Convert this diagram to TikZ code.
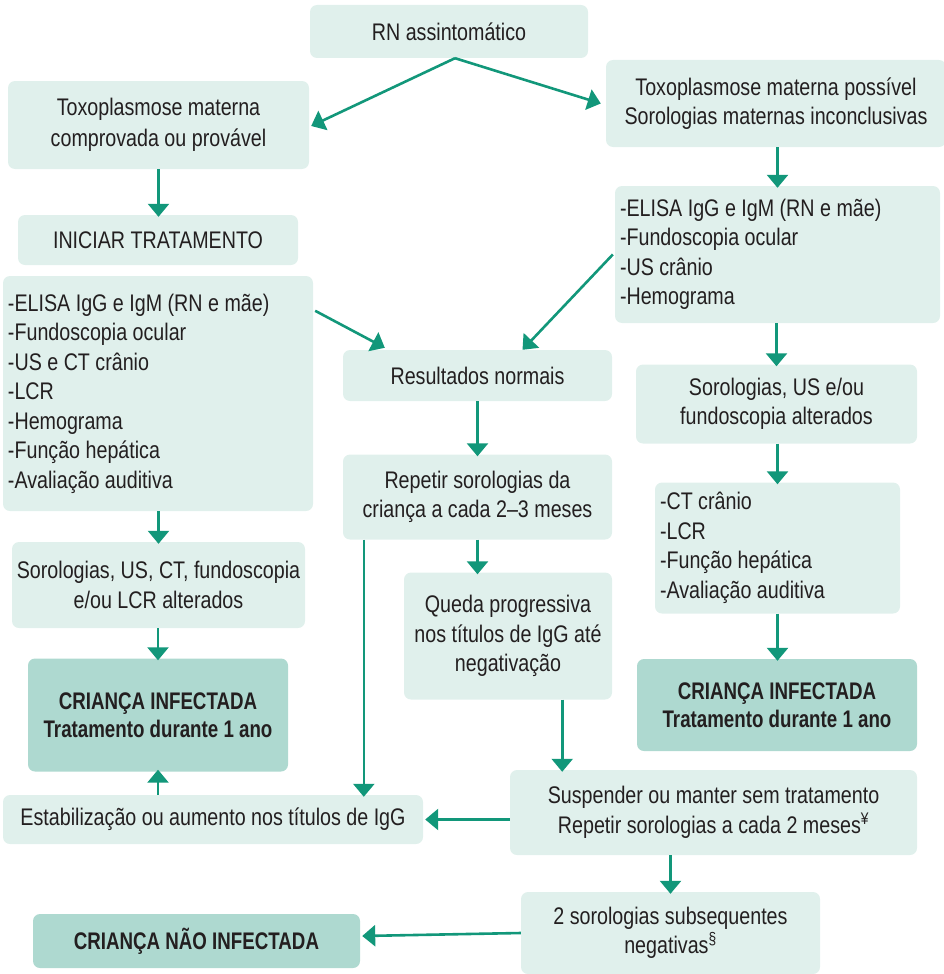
\documentclass[tikz,border=0pt]{standalone}
\usepackage{fontspec}
\setmainfont{Liberation Sans}[FakeStretch=0.82, BoldFeatures={FakeStretch=0.78}]
\usetikzlibrary{arrows.meta,calc}
\definecolor{lightbox}{HTML}{E0F0EC}
\definecolor{darkbox}{HTML}{AED9D0}
\definecolor{arrowgreen}{HTML}{12977A}
\definecolor{txt}{HTML}{231F20}
\begin{document}
\begin{tikzpicture}[x=1pt,y=-1pt,
  every node/.style={font=\fontsize{24pt}{29.5pt}\selectfont, text=txt},
  box/.style={fill=lightbox, rounded corners=7pt, inner sep=0pt, align=center},
  dbox/.style={fill=darkbox, rounded corners=7pt, inner sep=0pt, align=center, font=\fontsize{24pt}{28pt}\selectfont\bfseries},
  listbox/.style={fill=lightbox, rounded corners=7pt, inner ysep=0pt, inner xsep=5pt, align=flush left},
  arr/.style={draw=arrowgreen, line width=2.6pt, -{Triangle[width=21pt,length=13pt]}}
]
\useasboundingbox (0,0) rectangle (943,974);

\node[box, minimum width=278, minimum height=53] (rn) at (449,31.5) {RN assintomático};
\node[box, minimum width=301, minimum height=88, font=\fontsize{24pt}{31.5pt}\selectfont] (tc) at (158.5,125) {Toxoplasmose materna\\comprovada ou provável};
\node[box, minimum width=340, minimum height=87] (tp) at (776,103.5) {Toxoplasmose materna possível\\Sorologias maternas inconclusivas};
\node[box, minimum width=280, minimum height=50] (ini) at (158,240) {INICIAR TRATAMENTO};
\node[listbox, text width=300, minimum height=235] (ll) at (158,393.5) {-ELISA IgG e IgM (RN e mãe)\\-Fundoscopia ocular\\-US e CT crânio\\-LCR\\-Hemograma\\-Função hepática\\-Avaliação auditiva};
\node[listbox, text width=315, minimum height=137] (rl) at (777.5,254.5) {-ELISA IgG e IgM (RN e mãe)\\-Fundoscopia ocular\\-US crânio\\-Hemograma};
\node[box, minimum width=269, minimum height=51] (res) at (477.5,375.5) {Resultados normais};
\node[box, minimum width=281, minimum height=79] (rs) at (776.5,404) {Sorologias, US e/ou\\fundoscopia alterados};
\node[box, minimum width=269, minimum height=85] (rep) at (477.5,497) {Repetir sorologias da\\criança a cada 2–3 meses};
\node[box, minimum width=293, minimum height=86] (ls) at (158.5,585) {Sorologias, US, CT, fundoscopia\\e/ou LCR alterados};
\node[listbox, text width=235, minimum height=131] (ct) at (777.5,548) {-CT crânio\\-LCR\\-Função hepática\\-Avaliação auditiva};
\node[box, minimum width=208, minimum height=127] (qd) at (508,636) {Queda progressiva\\nos títulos de IgG até\\negativação};
\node[dbox, minimum width=260, minimum height=113] (ci1) at (158,715) {CRIANÇA INFECTADA\\Tratamento durante 1 ano};
\node[dbox, minimum width=280, minimum height=92] (ci2) at (777,705) {CRIANÇA INFECTADA\\Tratamento durante 1 ano};
\node[box, minimum width=420, minimum height=49] (est) at (213,819.5) {Estabilização ou aumento nos títulos de IgG};
\node[box, minimum width=407, minimum height=85] (sus) at (713.5,812.5) {Suspender ou manter sem tratamento\\Repetir sorologias a cada 2 meses\textsuperscript{¥}};
\node[box, minimum width=299, minimum height=82] (s2) at (670.5,933) {2 sorologias subsequentes\\negativas\textsuperscript{§}};
\node[dbox, minimum width=327, minimum height=54] (nao) at (196.5,941) {CRIANÇA NÃO INFECTADA};

% connectors
\draw[arr] ([xshift=6pt]rn.south) -- ([xshift=2pt,yshift=-1pt]tc.east);
\draw[arr] ([xshift=6pt]rn.south) -- ([xshift=-5pt]tp.west);
\draw[arr] (tc.south) -- ([yshift=-2pt]tc.south |- ini.north);
\draw[arr] (rl.north |- tp.south) -- ([yshift=-2pt]rl.north);
\draw[arr] ([xshift=2pt,yshift=-35pt]ll.north east) -- ([xshift=42pt,yshift=2pt]res.north west);
\draw[arr] ([xshift=-2pt]rl.west) -- ([xshift=45pt]res.north);
\draw[arr] (rs.north |- rl.south) -- ([yshift=-2pt]rs.north);
\draw[arr] (res.south) -- ([yshift=-2pt]rep.north);
\draw[arr] (ct.north |- rs.south) -- ([yshift=-2pt]ct.north);
\draw[arr] (ls.north |- ll.south) -- ([yshift=-2pt]ls.north);
\draw[arr] (rep.south) -- ([yshift=-2pt]rep.south |- qd.north);
\draw[arr] ([xshift=21pt]rep.south west) -- ([xshift=21pt,yshift=-2pt]rep.south west |- est.north);
\draw[arr] (ct.south) -- ([yshift=-2pt]ct.south |- ci2.north);
\draw[arr] (ci1.north |- ls.south) -- ([yshift=-2pt]ci1.north);
\draw[arr] ([xshift=-50pt]qd.south east) -- ([xshift=-50pt,yshift=-2pt]qd.south east |- sus.north);
\draw[arr] (ci1.south |- est.north) -- ([yshift=2pt]ci1.south);
\draw[arr] (sus.west |- est.east) -- ([xshift=2pt]est.east);
\draw[arr] (s2.north |- sus.south) -- ([yshift=-2pt]s2.north);
\draw[arr] (s2.west) -- ([xshift=2pt,yshift=5pt]nao.east);
\end{tikzpicture}
\end{document}
